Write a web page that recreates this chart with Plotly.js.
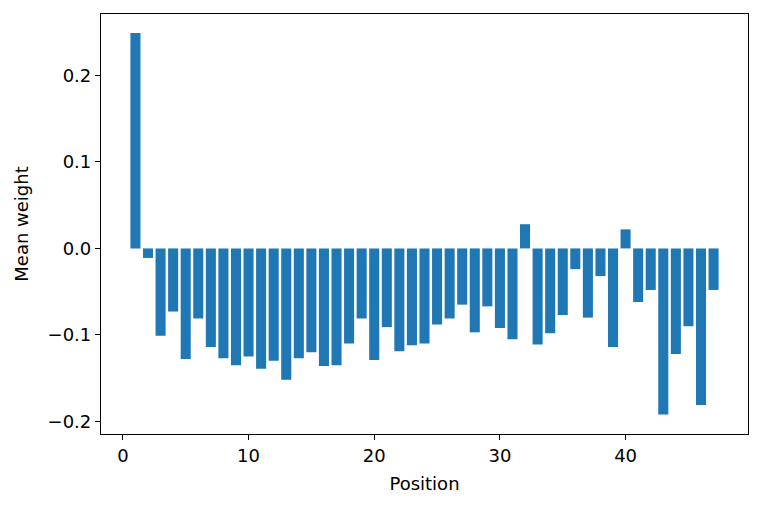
<!DOCTYPE html>
<html>
<head>
<meta charset="utf-8">
<script src="https://cdn.plot.ly/plotly-3.0.1.min.js"></script>
<style>
  body { margin: 0; background: #fff; }
  #chart { width: 762px; height: 507px; }
</style>
</head>
<body>
<div id="chart"></div>
<script>
// posisi 1..47 dan nilai rata-rata bobot
var positions = [];
for (var i = 1; i <= 47; i++) positions.push(i);

var meanWeight = [
   0.249, -0.011, -0.101, -0.073, -0.128, -0.081, -0.114, -0.127, -0.135, -0.125,
  -0.139, -0.130, -0.152, -0.127, -0.120, -0.136, -0.135, -0.110, -0.081, -0.129,
  -0.091, -0.119, -0.112, -0.110, -0.088, -0.081, -0.065, -0.097, -0.067, -0.092,
  -0.105,  0.028, -0.111, -0.098, -0.077, -0.024, -0.080, -0.032, -0.114,  0.022,
  -0.062, -0.048, -0.192, -0.122, -0.090, -0.181, -0.048
];

var yTickVals = [-0.2, -0.1, 0.0, 0.1, 0.2];
var yTickText = ['\u22120.2', '\u22120.1', '0.0', '0.1', '0.2'];
var xTickVals = [0, 10, 20, 30, 40];

var data = [{
  x: positions,
  y: meanWeight,
  type: 'bar',
  width: 0.8,
  marker: { color: '#1f77b4', line: { width: 0 } },
  hoverinfo: 'x+y'
}];

var axisStyle = {
  showline: true, mirror: true, linecolor: '#000', linewidth: 1.2,
  ticks: 'outside', ticklen: 5, tickwidth: 1.1, tickcolor: '#000',
  showgrid: false, zeroline: false,
  tickfont: { family: 'DejaVu Sans', size: 18, color: '#000' }
};

var layout = {
  width: 762, height: 507,
  margin: { l: 101, r: 14, t: 14, b: 73 },
  paper_bgcolor: '#fff', plot_bgcolor: '#fff',
  font: { family: 'DejaVu Sans', size: 18, color: '#000' },
  showlegend: false,
  xaxis: Object.assign({}, axisStyle, {
    range: [-1.74, 49.74],
    tickvals: xTickVals,
    title: { text: 'Position', font: { family: 'DejaVu Sans', size: 18 }, standoff: 12 }
  }),
  yaxis: Object.assign({}, axisStyle, {
    range: [-0.2146, 0.2711],
    tickvals: yTickVals,
    ticktext: yTickText,
    title: { text: 'Mean weight', font: { family: 'DejaVu Sans', size: 18 }, standoff: 14 }
  })
};

Plotly.newPlot('chart', data, layout, { displayModeBar: false, responsive: false });
</script>
</body>
</html>
